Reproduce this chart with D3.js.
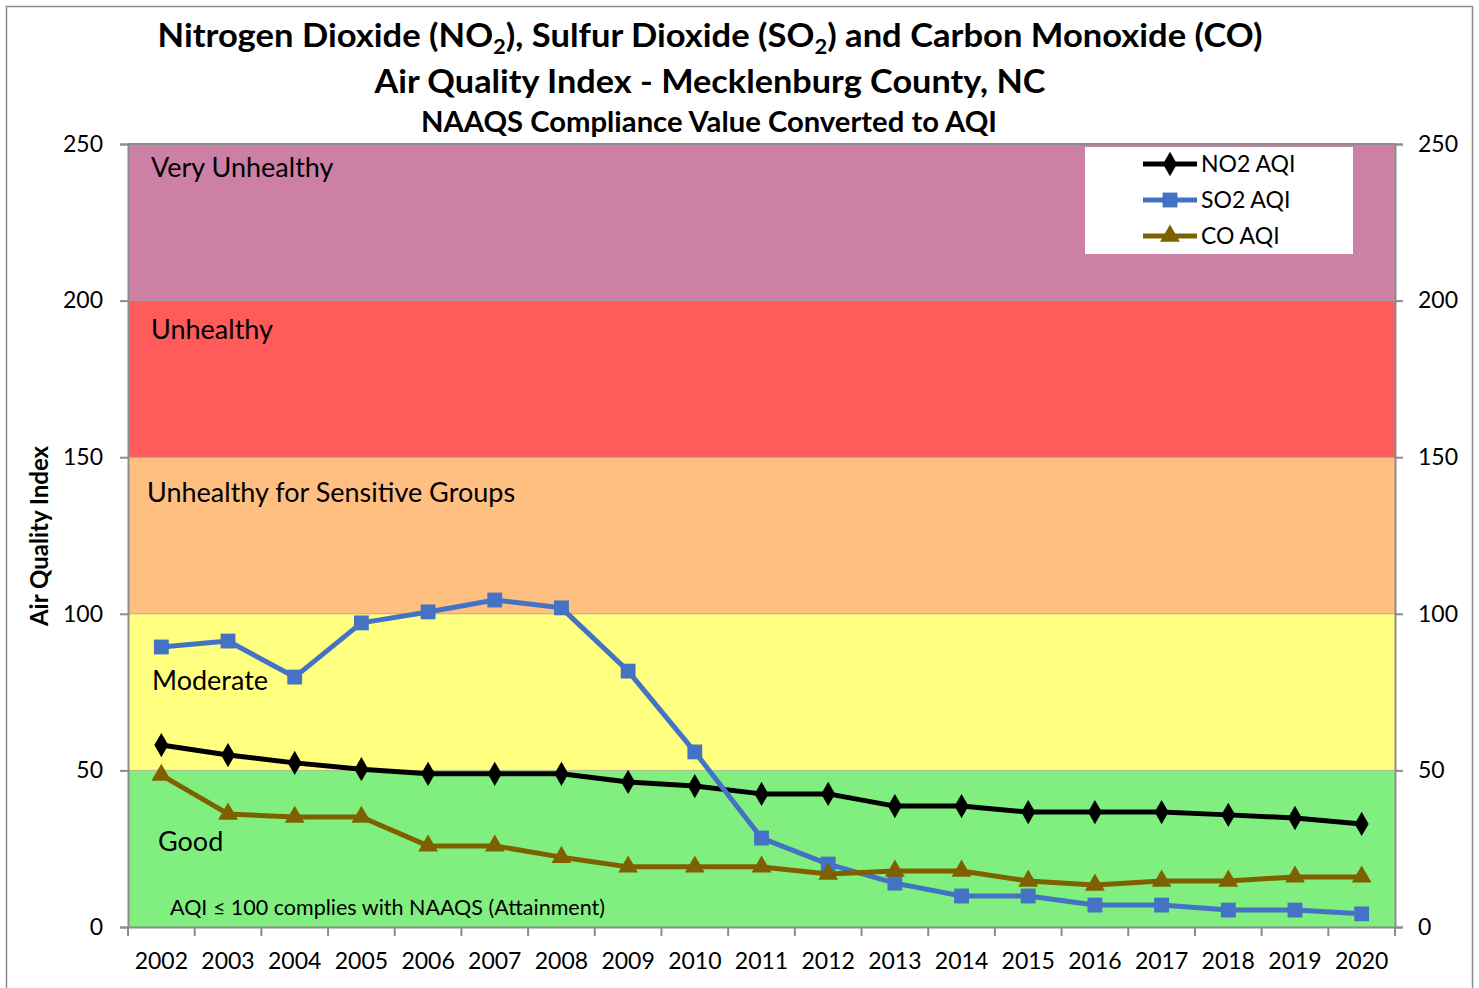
<!DOCTYPE html>
<html>
<head>
<meta charset="utf-8">
<script src="https://cdn.jsdelivr.net/npm/d3@7"></script>
<style>
  body { margin: 0; background: #fff; }
  text { font-family: Lato, "Noto Sans", sans-serif; }
</style>
</head>
<body>
<div id="chart"></div>
<script>
// data
var years = ["2002","2003","2004","2005","2006","2007","2008","2009","2010","2011",
             "2012","2013","2014","2015","2016","2017","2018","2019","2020"];
var no2 = [58.1, 54.9, 52.4, 50.4, 48.9, 48.9, 48.9, 46.3, 45.0, 42.5,
           42.5, 38.6, 38.6, 36.7, 36.7, 36.7, 35.8, 34.8, 32.9];
var so2 = [89.4, 91.3, 79.8, 97.1, 100.6, 104.4, 101.9, 81.7, 55.9, 28.4,
           20.1, 14.0, 9.9, 9.9, 7.0, 7.0, 5.4, 5.4, 4.2];
var co  = [48.5, 36.1, 35.1, 35.1, 25.9, 25.9, 22.3, 19.2, 19.2, 19.2,
           16.9, 17.9, 17.9, 14.7, 13.4, 14.7, 14.7, 16.0, 16.0];
var yTicks = [0, 50, 100, 150, 200, 250];
var bands = [
  {lo: 0,   hi: 50,  name: "Good"},
  {lo: 50,  hi: 100, name: "Moderate"},
  {lo: 100, hi: 150, name: "Unhealthy for Sensitive Groups"},
  {lo: 150, hi: 200, name: "Unhealthy"},
  {lo: 200, hi: 250, name: "Very Unhealthy"}
];
var bandColors = ["#80ef80", "#ffff80", "#ffbf80", "#ff5b5b", "#cc80a6"];

var W = 1479, H = 988;
var margin = {top: 144, left: 128, right: 84, bottom: 61};
var pw = W - margin.left - margin.right, ph = H - margin.top - margin.bottom;

var svg = d3.select("#chart").append("svg").attr("width", W).attr("height", H);

// outer frame
svg.append("rect").attr("x", 6.5).attr("y", 6.5).attr("width", 1466).attr("height", 990)
  .attr("fill", "none").attr("stroke", "#8c8c8c").attr("stroke-width", 1.5);

var x = d3.scaleBand().domain(years).range([0, pw]);
var y = d3.scaleLinear().domain([0, 250]).range([ph, 0]);

var g = svg.append("g").attr("transform", "translate(" + margin.left + "," + margin.top + ")");

// AQI bands
g.selectAll("rect.band").data(bands).enter().append("rect")
  .attr("class", "band")
  .attr("x", 0).attr("width", pw)
  .attr("y", function(d) { return y(d.hi); })
  .attr("height", function(d) { return y(d.lo) - y(d.hi); })
  .attr("fill", function(d, i) { return bandColors[i]; });

// gridlines on the band edges
g.selectAll("line.grid").data(yTicks.slice(1, -1)).enter().append("line")
  .attr("x1", 0).attr("x2", pw)
  .attr("y1", function(d) { return y(d); }).attr("y2", function(d) { return y(d); })
  .attr("stroke", "#8c8c8c").attr("stroke-opacity", 0.6);

// band labels
var labelPos = [[30, 851], [24, 690], [19, 502], [23, 339], [23, 177]];
g.selectAll("text.band").data(bands).enter().append("text")
  .attr("x", function(d, i) { return labelPos[i][0]; })
  .attr("y", function(d, i) { return labelPos[i][1] - margin.top; })
  .style("font-size", "27px").attr("fill", "#000")
  .text(function(d) { return d.name; });

g.append("text").attr("x", 42).attr("y", 915 - margin.top)
  .style("font-size", "21.5px").text("AQI \u2264 100 complies with NAAQS (Attainment)");

// axes
var axisColor = "#8c8c8c";
var yl = g.append("g").call(d3.axisLeft(y).tickValues(yTicks).tickSize(8).tickPadding(17));
var yr = g.append("g").attr("transform", "translate(" + pw + ",0)")
  .call(d3.axisRight(y).tickValues(yTicks).tickSize(8).tickPadding(15));
[yl, yr].forEach(function(a) {
  a.select(".domain").attr("stroke", axisColor).attr("stroke-width", 2);
  a.selectAll(".tick line").attr("stroke", axisColor).attr("stroke-width", 2);
  a.selectAll("text").style("font-size", "23px").attr("fill", "#000")
    .style("font-family", "Lato, 'Noto Sans', sans-serif");
});
// top border of plot area
g.append("line").attr("x1", 0).attr("x2", pw).attr("y1", 0).attr("y2", 0)
  .attr("stroke", axisColor).attr("stroke-width", 2);

var xa = g.append("g").attr("transform", "translate(0," + ph + ")")
  .call(d3.axisBottom(x).tickSize(0).tickPadding(26));
xa.select(".domain").attr("stroke", axisColor).attr("stroke-width", 2);
xa.selectAll("text").style("font-size", "23px").attr("fill", "#000")
  .style("font-family", "Lato, 'Noto Sans', sans-serif");
// category boundary ticks
g.append("g").selectAll("line").data(d3.range(years.length + 1)).enter().append("line")
  .attr("x1", function(i) { return i * x.step(); }).attr("x2", function(i) { return i * x.step(); })
  .attr("y1", ph).attr("y2", ph + 9)
  .attr("stroke", axisColor).attr("stroke-width", 2);

// series
var series = [
  {name: "NO2 AQI", values: no2, color: "#000000", symbol: d3.symbolDiamond, size: 170},
  {name: "SO2 AQI", values: so2, color: "#4472c4", symbol: d3.symbolSquare, size: 220},
  {name: "CO AQI",  values: co,  color: "#7f6000", symbol: d3.symbolTriangle, size: 170}
];
var cx = function(i) { return x(years[i]) + x.bandwidth() / 2; };
var line = d3.line().x(function(d, i) { return cx(i); }).y(function(d) { return y(d); });

series.forEach(function(s) {
  g.append("path").datum(s.values).attr("d", line)
    .attr("fill", "none").attr("stroke", s.color).attr("stroke-width", 5)
    .attr("stroke-linejoin", "round");
  g.selectAll(null).data(s.values).enter().append("path")
    .attr("d", d3.symbol().type(s.symbol).size(s.size))
    .attr("transform", function(d, i) { return "translate(" + cx(i) + "," + y(d) + ")"; })
    .attr("fill", s.color);
});

// legend
var lg = svg.append("g").attr("transform", "translate(1085,147)");
lg.append("rect").attr("width", 268).attr("height", 107).attr("fill", "#fff");
series.forEach(function(s, i) {
  var ly = 17 + i * 36;
  lg.append("line").attr("x1", 58).attr("x2", 112).attr("y1", ly).attr("y2", ly)
    .attr("stroke", s.color).attr("stroke-width", 5);
  lg.append("path").attr("d", d3.symbol().type(s.symbol).size(s.size))
    .attr("transform", "translate(85," + ly + ")").attr("fill", s.color);
  lg.append("text").attr("x", 116).attr("y", ly + 8).style("font-size", "23px").text(s.name);
});

// titles
var t1 = svg.append("text").attr("x", 710).attr("y", 47).attr("text-anchor", "middle")
  .style("font-size", "33px").style("font-weight", "bold")
  .attr("textLength", 1105).attr("lengthAdjust", "spacingAndGlyphs");
t1.append("tspan").text("Nitrogen Dioxide (NO");
t1.append("tspan").attr("dy", 7).style("font-size", "21px").text("2");
t1.append("tspan").attr("dy", -7).text("), Sulfur Dioxide (SO");
t1.append("tspan").attr("dy", 7).style("font-size", "21px").text("2");
t1.append("tspan").attr("dy", -7).text(") and Carbon Monoxide (CO)");

svg.append("text").attr("x", 710).attr("y", 93).attr("text-anchor", "middle")
  .style("font-size", "33px").style("font-weight", "bold")
  .attr("textLength", 671).attr("lengthAdjust", "spacingAndGlyphs")
  .text("Air Quality Index - Mecklenburg County, NC");
svg.append("text").attr("x", 709).attr("y", 132).attr("text-anchor", "middle")
  .style("font-size", "28px").style("font-weight", "bold")
  .attr("textLength", 576).attr("lengthAdjust", "spacingAndGlyphs")
  .text("NAAQS Compliance Value Converted to AQI");

// y axis title
svg.append("text").attr("transform", "translate(48,536) rotate(-90)")
  .attr("text-anchor", "middle").style("font-size", "24px").style("font-weight", "bold")
  .text("Air Quality Index");
</script>
</body>
</html>
